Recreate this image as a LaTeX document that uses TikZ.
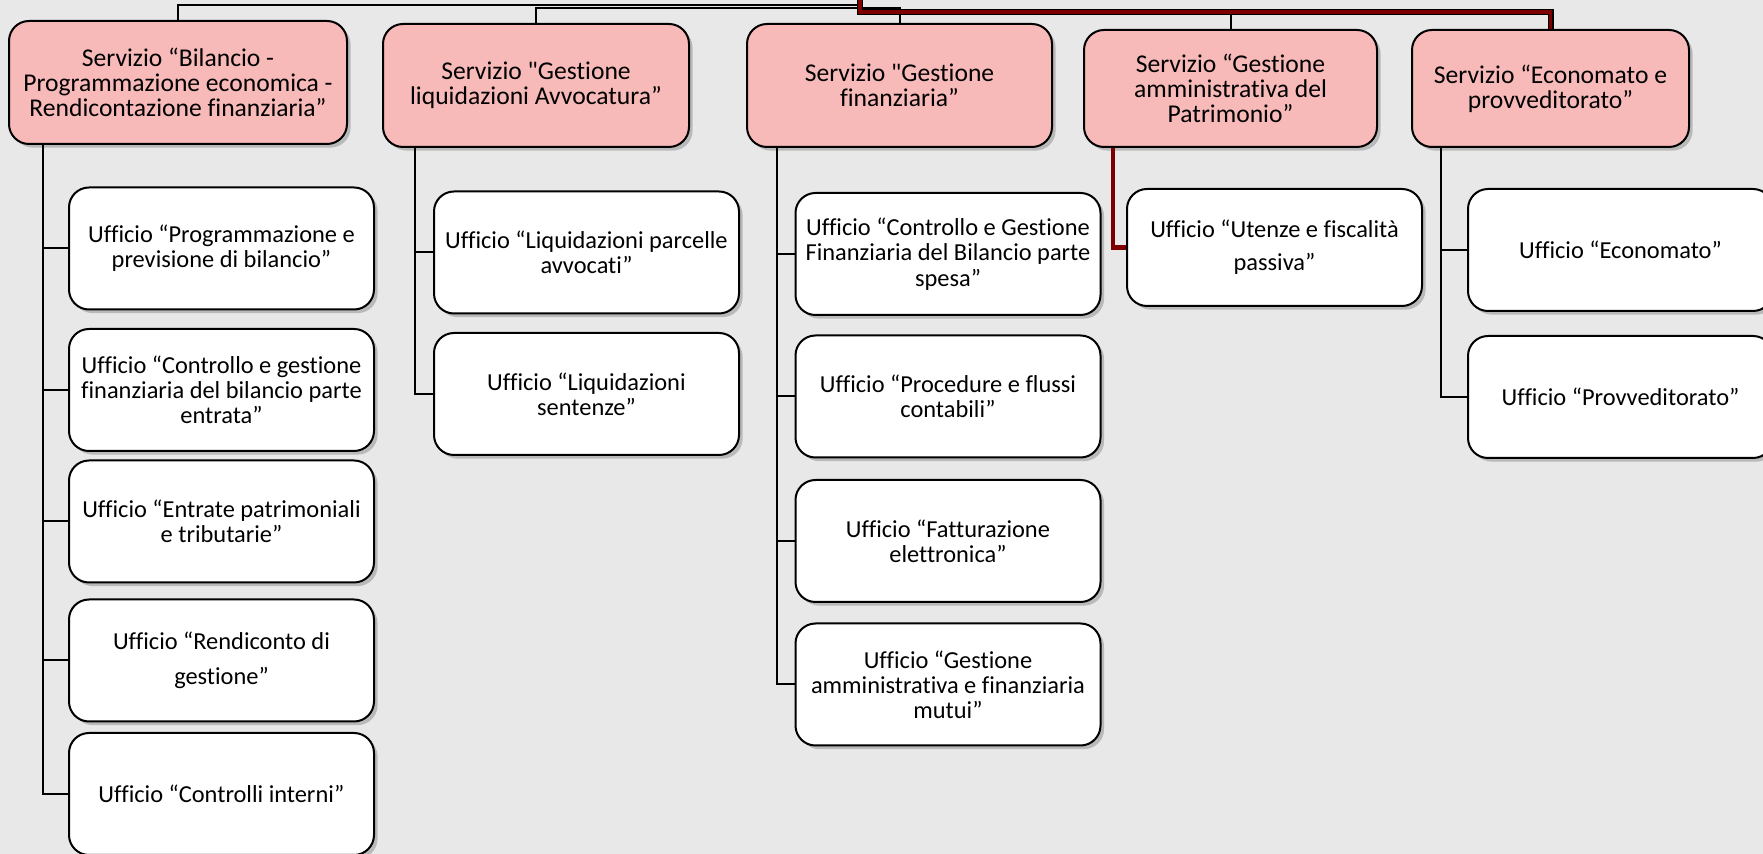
\documentclass[tikz,border=0pt]{standalone}
\usepackage{fontspec}
\setmainfont{Carlito}[Ligatures=NoCommon]
\usetikzlibrary{shadows}
\definecolor{bgpaper}{RGB}{232,232,232}
\definecolor{servfill}{RGB}{248,185,185}
\definecolor{trunkred}{RGB}{125,0,0}
\tikzset{
  box/.style={draw=black, line width=1pt, rounded corners=10pt, align=center,
    font=\fontsize{12.2}{12.6}\selectfont, inner sep=2pt,
    drop shadow={shadow xshift=1.8pt, shadow yshift=-1.8pt, opacity=0.45}},
  servizio/.style={box, fill=servfill, minimum height=61.5pt,
    font=\fontsize{12.8}{12.4}\selectfont},
  ufficio/.style={box, fill=white, minimum width=152.5pt, minimum height=61pt},
  link/.style={draw=black, line width=1pt},
  redlink/.style={draw=trunkred, line width=2.2pt},
  redtop/.style={draw=black, double=trunkred, double distance=1.8pt, line width=0.6pt}
}
\begin{document}
\begin{tikzpicture}[x=0.5pt,y=-0.5pt]
\clip (0,0) rectangle (1763,854);
\fill[bgpaper] (0,0) rectangle (1763,854);

\coordinate (top) at (860,0);
\coordinate (bendA) at (860,5);
\coordinate (bendB) at (899.5,8);
\coordinate (bendR) at (860,12);
\coordinate (t1) at (43,0);
\coordinate (t2) at (415,0);
\coordinate (t3) at (777,0);
\coordinate (t4) at (1113,0);
\coordinate (t5) at (1441,0);

% servizi
\node[servizio, minimum width=169pt] (s1) at (178,82.5) {Servizio “Bilancio -\\Programmazione economica -\\Rendicontazione finanziaria”};
\node[servizio, minimum width=153pt] (s2) at (536,85.5) {Servizio \textquotedbl Gestione\\liquidazioni Avvocatura”};
\node[servizio, minimum width=152.5pt] (s3) at (899.5,85.5) {Servizio \textquotedbl Gestione\\finanziaria”};
\node[servizio, minimum width=146.5pt, minimum height=58.5pt] (s4) at (1230.5,88.5) {Servizio “Gestione\\amministrativa del\\Patrimonio”};
\node[servizio, minimum width=138.5pt, minimum height=58.5pt] (s5) at (1550.5,88.5) {Servizio “Economato e\\provveditorato”};

% uffici
\node[ufficio] (u11) at (221.5,248.5) {Ufficio “Programmazione e\\previsione di bilancio”};
\node[ufficio] (u12) at (221.5,390) {Ufficio “Controllo e gestione\\finanziaria del bilancio parte\\entrata”};
\node[ufficio] (u13) at (221.5,521.5) {Ufficio “Entrate patrimoniali\\e tributarie”};
\node[ufficio] (u14) at (221.5,660.5) {Ufficio “Rendiconto di\\[5pt]gestione”};
\node[ufficio] (u15) at (221.5,794) {Ufficio “Controlli interni”};

\node[ufficio] (u21) at (586.5,252.5) {Ufficio “Liquidazioni parcelle\\avvocati”};
\node[ufficio] (u22) at (586.5,394) {Ufficio “Liquidazioni\\sentenze”};

\node[ufficio] (u31) at (948,254) {Ufficio “Controllo e Gestione\\Finanziaria del Bilancio parte\\spesa”};
\node[ufficio] (u32) at (948,396.5) {Ufficio “Procedure e flussi\\contabili”};
\node[ufficio] (u33) at (948,541) {Ufficio “Fatturazione\\elettronica”};
\node[ufficio] (u34) at (948,684.5) {Ufficio “Gestione\\amministrativa e finanziaria\\mutui”};

\node[ufficio, minimum width=147.5pt, minimum height=58.5pt] (u41) at (1274.5,247.5) {Ufficio “Utenze e fiscalità\\[4pt]passiva”};

\node[ufficio] (u51) at (1620.5,250) {Ufficio “Economato”};
\node[ufficio] (u52) at (1620.5,397) {Ufficio “Provveditorato”};

% top connectors
\draw[link] (s1.north) |- (bendA);
\draw[link] (s2.north) |- (bendB) -- (s3.north);
\draw[link] (s4.north |- bendR) -- (s4.north);
\draw[redtop] (top) -- (bendR) -| (s5.north);

% column connectors
\draw[link] (s1.south -| t1) |- (u11.west) (s1.south -| t1) |- (u12.west)
  (s1.south -| t1) |- (u13.west) (s1.south -| t1) |- (u14.west)
  (s1.south -| t1) |- (u15.west);
\draw[link] (s2.south -| t2) |- (u21.west) (s2.south -| t2) |- (u22.west);
\draw[link] (s3.south -| t3) |- (u31.west) (s3.south -| t3) |- (u32.west)
  (s3.south -| t3) |- (u33.west) (s3.south -| t3) |- (u34.west);
\draw[redlink] (s4.south -| t4) |- (u41.west);
\draw[link] (s5.south -| t5) |- (u51.west) (s5.south -| t5) |- (u52.west);
\end{tikzpicture}
\end{document}
